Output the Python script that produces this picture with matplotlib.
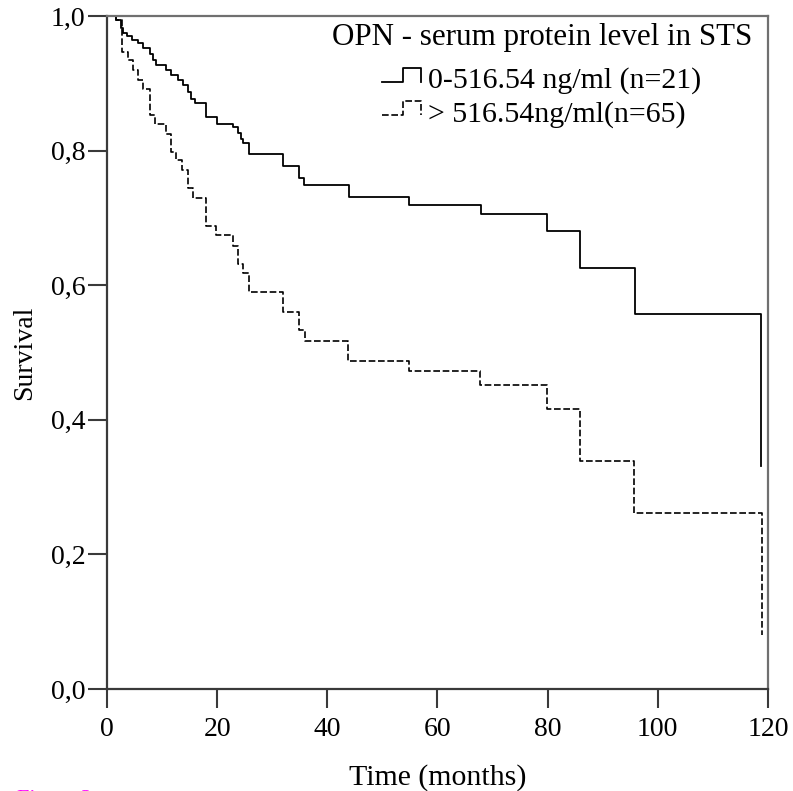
import matplotlib
matplotlib.use("Agg")
import matplotlib.pyplot as plt
from matplotlib.lines import Line2D
from matplotlib.legend_handler import HandlerBase
from matplotlib.ticker import FuncFormatter

# Kaplan-Meier steps (drop time in months, survival after drop)
low_times = [0, 1.7, 2.6, 2.9, 3.6, 4.5, 5.7, 6.6, 7.8, 8.4, 8.9, 10.8, 11.7, 12.9,
             13.8, 14.8, 15.3, 16.0, 18.0, 19.9, 22.9, 23.8, 24.3, 24.7, 25.8, 31.9,
             34.9, 35.8, 43.9, 54.9, 67.9, 79.8, 85.9, 95.8, 118.8]
low_surv = [1.0, 0.994, 0.982, 0.975, 0.970, 0.965, 0.960, 0.952, 0.943, 0.935, 0.927,
            0.920, 0.913, 0.905, 0.897, 0.887, 0.877, 0.871, 0.850, 0.840, 0.835, 0.826,
            0.818, 0.811, 0.795, 0.777, 0.759, 0.749, 0.731, 0.719, 0.706, 0.680, 0.625,
            0.558, 0.332]

high_times = [0, 1.7, 2.8, 3.9, 4.8, 5.7, 6.6, 7.8, 8.7, 10.8, 11.7, 12.6, 13.7, 14.8,
              15.7, 18.0, 19.8, 22.9, 23.8, 24.7, 25.8, 31.9, 34.9, 35.9, 43.8, 54.8,
              67.8, 79.9, 85.8, 95.7, 118.9]
high_surv = [1.0, 0.994, 0.947, 0.935, 0.920, 0.905, 0.892, 0.853, 0.839, 0.825, 0.798,
             0.786, 0.771, 0.744, 0.729, 0.688, 0.674, 0.659, 0.632, 0.618, 0.590, 0.560,
             0.533, 0.517, 0.487, 0.472, 0.452, 0.416, 0.339, 0.262, 0.081]

labels = ["0-516.54 ng/ml (n=21)", "> 516.54ng/ml(n=65)"]
legend_title = "OPN - serum protein level in STS"
x_ticks = [0, 20, 40, 60, 80, 100, 120]
y_ticks = [0.0, 0.2, 0.4, 0.6, 0.8, 1.0]


class StepHandler(HandlerBase):
    """SPSS-like little step symbol for the legend."""
    def create_artists(self, legend, orig_handle, xdescent, ydescent,
                       width, height, fontsize, trans):
        x0, y0 = -xdescent, -ydescent
        xm = x0 + 0.55 * width
        ylo = y0 + 0.3 * height
        yhi = y0 + 0.95 * height
        line = Line2D([x0, xm, xm, x0 + width, x0 + width],
                      [ylo, ylo, yhi, yhi, ylo])
        line.update_from(orig_handle)
        line.set_transform(trans)
        return [line]


plt.rcParams["font.family"] = ["Liberation Serif", "DejaVu Serif"]

fig = plt.figure(figsize=(7.93, 7.91), dpi=100)
ax = fig.add_axes([0.1349, 0.1289, 0.8335, 0.8508])

l1, = ax.step(low_times, low_surv, where="post", color="black", lw=1.3)
l2, = ax.step(high_times, high_surv, where="post", color="black", lw=1.2,
              linestyle=(0, (4, 1.6)))

ax.set_xlim(0, 120)
ax.set_ylim(0, 1.0)
ax.set_xticks(x_ticks)
ax.set_yticks(y_ticks)
ax.yaxis.set_major_formatter(FuncFormatter(lambda v, p: f"{v:.1f}".replace(".", ",")))

for s in ax.spines.values():
    s.set_color("#3a3a3a")
    s.set_linewidth(1.6)
ax.spines["top"].set_color("#707070")
ax.spines["right"].set_color("#707070")

ax.tick_params(axis="both", direction="out", length=14, width=1.5, color="#3a3a3a",
               labelsize=20)
ax.tick_params(axis="x", pad=6)
ax.tick_params(axis="y", pad=1.5)

ax.set_xlabel("Time (months)", fontsize=21.5, labelpad=16)
ax.set_ylabel("Survival", fontsize=20, labelpad=10)

leg = ax.legend([l1, l2], labels, title=legend_title, loc="upper right",
                bbox_to_anchor=(1.012, 1.025), frameon=False, fontsize=21.5,
                title_fontsize=22.3, handlelength=1.3, handletextpad=0.25,
                labelspacing=0.2, borderpad=0.3,
                handler_map={Line2D: StepHandler()})
# a bit more room between the title and the entries
leg._legend_box.sep = leg._legend_box.sep + 6.5

fig.text(0.021, 0.0013, "Figure 2", color="#ff00ff", fontsize=16, va="top", ha="left")

fig.savefig("out.png", dpi=100)
